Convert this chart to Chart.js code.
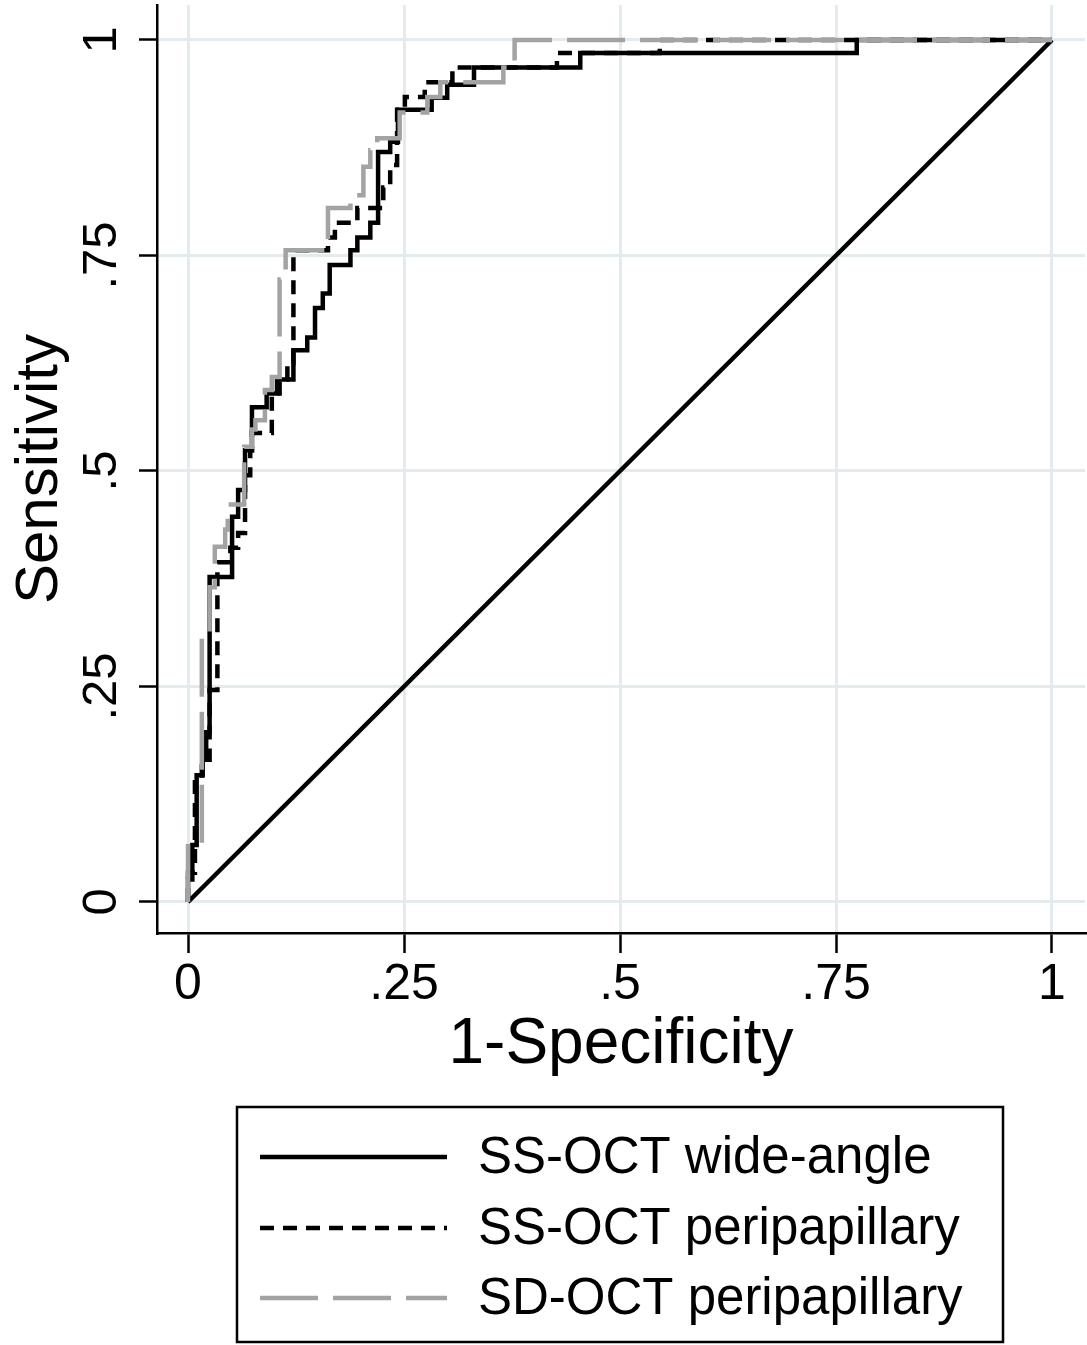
<!DOCTYPE html>
<html>
<head>
<meta charset="utf-8">
<script src="https://cdn.jsdelivr.net/npm/chart.js@4.4.1/dist/chart.umd.min.js"></script>
<style>
  html, body { margin: 0; padding: 0; background: #fff; }
  canvas { display: block; }
</style>
</head>
<body>
<canvas id="rocChart" width="1087" height="1345"></canvas>
<script>
// ── Data ──────────────────────────────────────────────────────
const tickValues = [0, 0.25, 0.5, 0.75, 1];
const xTickLabels = ['0', '.25', '.5', '.75', '1'];
const yTickLabels = ['0', '.25', '.5', '.75', '1'];

const seriesLabels = ['SS-OCT wide-angle', 'SS-OCT peripapillary', 'SD-OCT peripapillary'];

// SS-OCT wide-angle (solid black) – staircase vertices
const wideFpr  = [0, 0, 0.005, 0.005, 0.010, 0.010, 0.017, 0.017, 0.021, 0.021, 0.025, 0.025, 0.051, 0.051,
                  0.058, 0.058, 0.066, 0.066, 0.074, 0.074, 0.091, 0.091, 0.103, 0.103, 0.122, 0.122, 0.138,
                  0.138, 0.147, 0.147, 0.156, 0.156, 0.164, 0.164, 0.188, 0.188, 0.196, 0.196, 0.211, 0.211,
                  0.220, 0.220, 0.234, 0.234, 0.243, 0.243, 0.282, 0.282, 0.300, 0.300, 0.331, 0.331, 0.454,
                  0.454, 0.774, 0.774, 1];
const wideSens = [0, 0.026, 0.026, 0.066, 0.066, 0.147, 0.147, 0.165, 0.165, 0.197, 0.197, 0.377, 0.377, 0.447,
                  0.447, 0.478, 0.478, 0.524, 0.524, 0.574, 0.574, 0.590, 0.590, 0.606, 0.606, 0.640, 0.640,
                  0.655, 0.655, 0.689, 0.689, 0.706, 0.706, 0.739, 0.739, 0.756, 0.756, 0.771, 0.771, 0.788,
                  0.788, 0.870, 0.870, 0.882, 0.882, 0.919, 0.919, 0.933, 0.933, 0.948, 0.948, 0.968, 0.968,
                  0.985, 0.985, 1, 1];

// SS-OCT peripapillary (short-dash black)
const ppFpr  = [0, 0, 0.008, 0.008, 0.016, 0.016, 0.025, 0.025, 0.034, 0.034, 0.049, 0.049, 0.058, 0.058,
                0.066, 0.066, 0.072, 0.072, 0.074, 0.074, 0.097, 0.097, 0.106, 0.106, 0.115, 0.115, 0.122,
                0.122, 0.162, 0.162, 0.170, 0.170, 0.196, 0.196, 0.226, 0.226, 0.234, 0.234, 0.242, 0.242,
                0.251, 0.251, 0.274, 0.274, 0.306, 0.306, 0.427, 0.427, 0.546, 0.546, 1];
const ppSens = [0, 0.034, 0.034, 0.142, 0.142, 0.165, 0.165, 0.246, 0.246, 0.394, 0.394, 0.411, 0.411, 0.428,
                0.428, 0.495, 0.495, 0.524, 0.524, 0.544, 0.544, 0.590, 0.590, 0.606, 0.606, 0.625, 0.625,
                0.756, 0.756, 0.771, 0.771, 0.788, 0.788, 0.805, 0.805, 0.829, 0.829, 0.855, 0.855, 0.919,
                0.919, 0.934, 0.934, 0.951, 0.951, 0.968, 0.968, 0.985, 0.985, 1, 1];

// SD-OCT peripapillary (long-dash grey)
const sdFpr  = [0, 0, 0.016, 0.016, 0.025, 0.025, 0.031, 0.031, 0.043, 0.043, 0.046, 0.046, 0.065, 0.065,
                0.074, 0.074, 0.078, 0.078, 0.089, 0.089, 0.097, 0.097, 0.106, 0.106, 0.113, 0.113, 0.162,
                0.162, 0.188, 0.188, 0.203, 0.203, 0.211, 0.211, 0.219, 0.219, 0.245, 0.245, 0.277, 0.277,
                0.292, 0.292, 0.365, 0.365, 0.378, 0.378, 1];
const sdSens = [0, 0.068, 0.068, 0.313, 0.313, 0.365, 0.365, 0.412, 0.412, 0.432, 0.432, 0.461, 0.461, 0.528,
                0.528, 0.548, 0.548, 0.559, 0.559, 0.594, 0.594, 0.609, 0.609, 0.722, 0.722, 0.756, 0.756,
                0.805, 0.805, 0.820, 0.820, 0.853, 0.853, 0.872, 0.872, 0.886, 0.886, 0.916, 0.916, 0.934,
                0.934, 0.951, 0.951, 0.968, 0.968, 1, 1];

// chance diagonal
const refFpr  = [0, 1];
const refSens = [0, 1];

// ── Helpers ───────────────────────────────────────────────────
const FONT = "'Liberation Sans', Arial, Helvetica, sans-serif";

function toPoints(xs, ys) {
    return xs.map((x, i) => ({ x, y: ys[i] }));
}

// y tick labels are rotated in the original, draw them by hand
const yTickPlugin = {
    id: 'yTickRotated',
    afterDraw(chart) {
        const ctx = chart.ctx;
        const ys = chart.scales.y;
        ctx.save();
        ctx.fillStyle = '#000';
        ctx.font = '49px ' + FONT;
        ctx.textAlign = 'center';
        ctx.textBaseline = 'alphabetic';
        tickValues.forEach((v, i) => {
            ctx.save();
            ctx.translate(116, ys.getPixelForValue(v));
            ctx.rotate(-Math.PI / 2);
            ctx.fillText(yTickLabels[i], 0, 0);
            ctx.restore();
        });
        ctx.restore();
    }
};

// boxed legend under the x axis title
const boxLegendPlugin = {
    id: 'boxLegend',
    afterDraw(chart) {
        const ctx = chart.ctx;
        const box = { x: 237, y: 1107, w: 766, h: 235 };
        const rows = [1157, 1228, 1298];
        ctx.save();
        ctx.strokeStyle = '#000';
        ctx.lineWidth = 2.5;
        ctx.strokeRect(box.x, box.y, box.w, box.h);

        ctx.font = '51px ' + FONT;
        ctx.textBaseline = 'middle';
        ctx.fillStyle = '#000';
        seriesLabels.forEach((label, i) => {
            const ds = chart.data.datasets[i];
            ctx.beginPath();
            ctx.setLineDash(ds.borderDash || []);
            ctx.strokeStyle = ds.borderColor;
            ctx.lineWidth = 4.5;
            ctx.moveTo(260, rows[i]);
            ctx.lineTo(447, rows[i]);
            ctx.stroke();
            ctx.setLineDash([]);
            ctx.fillText(label, 478, rows[i] + 2);
        });
        ctx.restore();
    }
};

// ── Chart ─────────────────────────────────────────────────────
const gridColor = '#e3ebee';

new Chart(document.getElementById('rocChart').getContext('2d'), {
    type: 'line',
    data: {
        datasets: [
            {
                label: seriesLabels[0],
                data: toPoints(wideFpr, wideSens),
                borderColor: '#000',
                borderWidth: 4.5,
                order: 3
            },
            {
                label: seriesLabels[1],
                data: toPoints(ppFpr, ppSens),
                borderColor: '#000',
                borderWidth: 4.5,
                borderDash: [14, 9],
                order: 2
            },
            {
                label: seriesLabels[2],
                data: toPoints(sdFpr, sdSens),
                borderColor: '#a3a3a3',
                borderWidth: 4.5,
                borderDash: [58, 15],
                order: 1
            },
            {
                label: 'reference',
                data: toPoints(refFpr, refSens),
                borderColor: '#000',
                borderWidth: 4.5,
                order: 4
            }
        ]
    },
    options: {
        responsive: false,
        animation: false,
        devicePixelRatio: 1,
        elements: {
            point: { radius: 0 },
            line: { tension: 0, fill: false, borderCapStyle: 'butt', borderJoinStyle: 'miter' }
        },
        layout: { padding: { top: 5, right: 2, left: 0, bottom: 259 } },
        plugins: {
            legend: { display: false },
            tooltip: { enabled: false }
        },
        scales: {
            x: {
                type: 'linear',
                min: -0.0359,
                max: 1.0382,
                afterBuildTicks: s => { s.ticks = tickValues.map(v => ({ value: v })); },
                afterFit: s => { s.height = 153; },
                grid: { color: gridColor, lineWidth: 3, drawTicks: true, tickLength: 20,
                        tickColor: '#000', tickWidth: 2.5 },
                border: { display: true, color: '#000', width: 2.5 },
                ticks: {
                    color: '#000',
                    padding: 2,
                    maxRotation: 0,
                    font: { family: FONT, size: 50 },
                    callback: (v) => xTickLabels[tickValues.indexOf(v)]
                },
                title: {
                    display: true,
                    text: '1-Specificity',
                    color: '#000',
                    font: { family: FONT, size: 64 },
                    padding: { top: 4, bottom: 2 }
                }
            },
            y: {
                type: 'linear',
                min: -0.036,
                max: 1.0406,
                afterBuildTicks: s => { s.ticks = tickValues.map(v => ({ value: v })); },
                afterFit: s => { s.width = 157; },
                grid: { color: gridColor, lineWidth: 3, drawTicks: true, tickLength: 18,
                        tickColor: '#000', tickWidth: 2.5 },
                border: { display: true, color: '#000', width: 2.5 },
                ticks: { display: false },
                title: {
                    display: true,
                    text: 'Sensitivity',
                    color: '#000',
                    font: { family: FONT, size: 60 },
                    padding: { top: 4, bottom: 4 }
                }
            }
        }
    },
    plugins: [yTickPlugin, boxLegendPlugin]
});
</script>
</body>
</html>
